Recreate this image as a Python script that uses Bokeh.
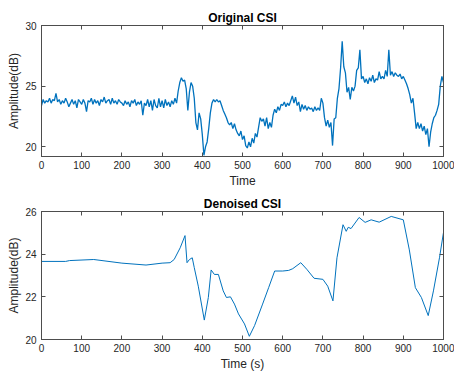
from bokeh.plotting import figure
from bokeh.layouts import column
from bokeh.models import LinearAxis, Range1d, FixedTicker
from bokeh.embed import file_html
from bokeh.resources import INLINE

# ---------------- data ----------------
orig_step = 4
orig_vals = [
    # 0-96
    23.4, 23.9, 23.6, 23.8, 23.7, 24.0, 23.6, 23.9, 23.8, 24.4, 23.7, 23.9, 23.5, 23.8, 23.6, 24.0, 23.7, 23.3, 23.6, 23.9, 23.5, 23.8, 23.2, 23.9, 23.7,
    # 100-196
    23.5, 23.9, 23.6, 22.9, 23.8, 23.7, 24.0, 23.5, 23.9, 23.6, 23.8, 23.4, 23.9, 23.7, 24.1, 23.6, 23.8, 23.9, 23.5, 24.0, 23.6, 23.8, 23.5, 23.9, 23.7,
    # 200-296
    23.6, 23.4, 23.8, 23.5, 23.7, 23.3, 23.8, 23.6, 23.9, 23.4, 23.7, 23.5, 23.8, 22.6, 23.6, 23.4, 23.9, 23.3, 23.8, 23.0, 23.9, 23.4, 23.2, 24.0, 23.3,
    # 300-396
    23.8, 23.2, 23.9, 23.4, 23.7, 23.3, 23.8, 23.5, 24.0, 23.6, 24.6, 25.3, 25.7, 25.4, 25.5, 24.8, 23.0, 24.5, 25.3, 25.0, 24.0, 22.0, 21.4, 22.8, 22.3,
    # 400-496
    21.0, 19.3, 20.0, 20.4, 21.5, 22.8, 23.6, 23.9, 23.7, 23.9, 23.7, 23.8, 23.4, 23.0, 22.7, 22.4, 22.0, 21.8, 22.0, 21.5, 21.9, 21.4, 21.1, 20.9, 21.3,
    # 500-596
    20.6, 20.9, 20.1, 19.9, 20.4, 20.0, 20.7, 20.3, 21.1, 20.8, 21.6, 22.4, 22.1, 22.3, 21.7, 22.4, 21.5, 22.0, 21.6, 22.6, 23.1, 22.8, 23.3, 23.0, 23.5,
    # 600-696
    23.4, 23.7, 23.3, 23.6, 23.4, 23.8, 24.2, 23.6, 24.1, 23.4, 23.7, 22.9, 23.5, 23.1, 23.4, 23.0, 23.3, 23.1, 23.2, 22.9, 23.3, 23.0, 23.2, 23.0, 24.0,
    # 700-796
    23.6, 22.4, 21.7, 22.2, 21.6, 22.0, 20.1, 22.3, 22.4, 24.0, 24.8, 26.5, 28.7, 26.6, 26.1, 24.5, 24.9, 23.9, 24.9, 24.6, 25.0, 26.3, 26.5, 28.0, 25.6,
    # 800-896
    25.8, 25.3, 25.6, 25.2, 25.7, 25.4, 25.9, 25.3, 25.6, 25.5, 26.2, 25.6, 25.8, 25.6, 26.3, 25.8, 28.0, 25.9, 26.2, 25.8, 26.1, 25.9, 25.8, 26.0, 25.6,
    # 900-996
    25.8, 25.5, 25.2, 24.8, 24.3, 23.6, 24.0, 22.8, 21.5, 22.0, 21.5, 21.9, 21.3, 21.7, 21.0, 21.5, 20.0, 21.2, 21.9, 22.4, 22.6, 23.0, 23.5, 25.0, 25.8,
    # 1000
    25.3,
]
orig_time = [i * orig_step for i in range(len(orig_vals))]

den_time = [0, 60, 70, 130, 200, 260, 300, 320, 330, 345, 357, 362, 368, 375, 380, 390,
            405, 415, 422, 430, 440, 452, 460, 470, 480, 490, 505, 517, 530, 550, 565,
            580, 600, 615, 625, 645, 660, 678, 700, 712, 725, 735, 750, 758, 763, 770,
            780, 790, 805, 820, 840, 870, 900, 915, 930, 945, 962, 975, 990, 1000]
den_vals = [23.66, 23.66, 23.70, 23.75, 23.58, 23.49, 23.58, 23.60, 23.75, 24.30, 24.87, 23.60,
            23.75, 23.83, 23.37, 22.50, 20.91, 21.97, 23.26, 23.05, 23.05, 22.28, 21.97, 22.00,
            21.66, 21.20, 20.73, 20.15, 20.65, 21.66, 22.43, 23.21, 23.21, 23.24, 23.32, 23.60,
            23.29, 22.87, 22.82, 22.50, 21.81, 23.83, 25.38, 25.07, 25.26, 25.20, 25.46, 25.72,
            25.49, 25.61, 25.50, 25.77, 25.61, 24.20, 22.43, 21.97, 21.12, 22.28, 23.83, 25.02]

x_ticks = [0, 100, 200, 300, 400, 500, 600, 700, 800, 900, 1000]
top_y_ticks = [20, 25, 30]
bot_y_ticks = [20, 22, 24, 26]

# ---------------- styling helpers ----------------
FONT = "Liberation Sans"
AX = "#4d4d4d"
TXT = "#262626"
LINE = "#0072BD"


def style(p, xlabel, ylabel, yticks):
    p.title.text_font = FONT
    p.title.text_font_size = "12px"
    p.title.text_font_style = "bold"
    p.title.text_color = "#000000"
    p.title.align = "center"
    p.title.offset = 0
    p.title.standoff = 1
    p.grid.visible = False
    p.outline_line_color = AX
    p.outline_line_width = 1
    for ax in (p.xaxis[0], p.yaxis[0]):
        ax.axis_line_color = AX
        ax.major_tick_in = 4
        ax.major_tick_out = 0
        ax.minor_tick_line_color = None
        ax.major_tick_line_color = AX
        ax.major_label_text_font = FONT
        ax.major_label_text_font_size = "10px"
        ax.major_label_text_color = TXT
        ax.axis_label_text_font = FONT
        ax.axis_label_text_font_size = "12px"
        ax.axis_label_text_font_style = "normal"
        ax.axis_label_text_color = TXT
    p.xaxis[0].major_label_standoff = 4
    p.xaxis[0].axis_label_standoff = 2
    p.yaxis[0].major_label_standoff = 5
    p.yaxis[0].axis_label_standoff = 1
    p.xaxis[0].axis_label = xlabel
    p.yaxis[0].axis_label = ylabel
    p.xaxis[0].ticker = FixedTicker(ticks=x_ticks)
    p.yaxis[0].ticker = FixedTicker(ticks=yticks)
    # mirrored ticks on top / right (box on)
    top = LinearAxis(ticker=FixedTicker(ticks=x_ticks))
    right = LinearAxis(ticker=FixedTicker(ticks=yticks))
    for ax in (top, right):
        ax.major_tick_in = 4
        ax.major_tick_out = 0
        ax.minor_tick_line_color = None
        ax.major_tick_line_color = AX
        ax.axis_line_color = AX
        ax.major_label_text_color = None
        ax.major_label_text_font_size = "1px"
        ax.major_label_standoff = 0
    p.add_layout(top, "above")
    p.add_layout(right, "right")


p1 = figure(width=454, height=194, output_backend="svg", toolbar_location=None,
            title="Original CSI", x_range=Range1d(0, 1000), y_range=Range1d(19.2, 30),
            min_border_left=41, min_border_right=11, min_border_top=25, min_border_bottom=38,
            background_fill_color="white", border_fill_color="white")
p1.line(orig_time, orig_vals, line_color=LINE, line_width=1.3)
style(p1, "Time", "Amplitude(dB)", top_y_ticks)

p2 = figure(width=454, height=182, output_backend="svg", toolbar_location=None,
            title="Denoised CSI", x_range=Range1d(0, 1000), y_range=Range1d(20, 26),
            min_border_left=41, min_border_right=11, min_border_top=16, min_border_bottom=37,
            background_fill_color="white", border_fill_color="white")
p2.line(den_time, den_vals, line_color=LINE, line_width=1)
style(p2, "Time (s)", "Amplitude(dB)", bot_y_ticks)

layout = column(p1, p2, spacing=0)
open("out.html", "w").write(file_html(layout, INLINE))
